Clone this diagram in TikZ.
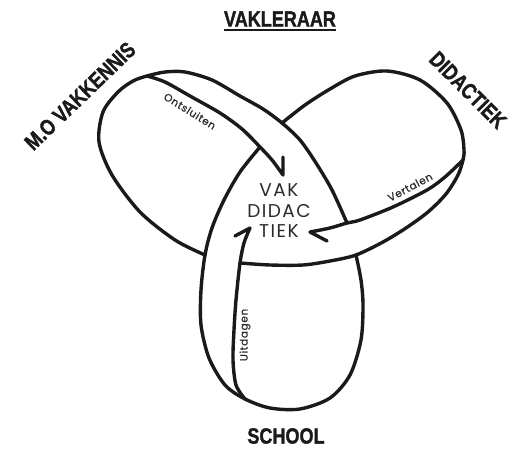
\documentclass[tikz,border=0pt]{standalone}
\usepackage{fontspec}
\usepackage{graphicx}
\setmainfont{Liberation Sans}
\newfontfamily\geo[LetterSpace=8]{Poppins}
\newfontfamily\geob[LetterSpace=6,FakeBold=0.6]{Poppins}
\newfontfamily\lab[BoldFeatures={FakeBold=1.6}]{Liberation Sans}
\newcommand{\cond}[1]{\scalebox{0.82}[1]{#1}}
\definecolor{ink}{HTML}{1A1A1A}
\definecolor{grey}{HTML}{2A2A2A}
\begin{document}
\begin{tikzpicture}[x=1pt,y=-1pt,
  ln/.style={line width=3.4pt, draw=ink, line cap=round, line join=round},
  big/.style={font=\lab\bfseries\fontsize{22}{22}\selectfont, text=ink, inner sep=0pt},
  small/.style={font=\geob\fontsize{10.5}{11}\selectfont, text=grey, inner sep=0pt},
  centre/.style={font=\geo\fontsize{18.5}{20.5}\selectfont, text=grey, inner sep=0pt, align=center}
]
\useasboundingbox (0,0) rectangle (512,449);

% trefoil outline, in three pieces (each ends where it passes under a band)
\draw[ln] plot[smooth] coordinates {(282,123) (305,105) (330,89) (355,76) (387,71) (420,80) (447,103) (461,130) (464,150) (463,160) (458,175) (446,194) (428,212) (406,228) (383,242) (356,255) (330,261) (303,265) (270,265) (240,263)};
\draw[ln] plot[smooth] coordinates {(205,255) (175,240) (140,212) (112,175) (99,142) (103,112) (118,92) (133,81) (147,76) (165,72) (185,72) (212,80) (240,96) (263,109) (282,123) (300,140) (316,163) (332,190) (347,223)};
\draw[ln] plot[smooth] coordinates {(356,255) (361,280) (363,305) (361,340) (350,375) (330,398) (300,409) (270,408) (245,399) (225,385) (209,358) (201,325) (201,290) (205,255) (212,228) (224,200) (240,172) (260,147)};

% arrow shafts with one-sided heads
\draw[ln] plot[smooth] coordinates {(147,76) (165,82) (190,96) (220,113) (242,129) (260,147) (272,160) (283,175)} -- (283,157);
\draw[ln] plot[smooth] coordinates {(463,160) (445,177) (427,190) (393,207) (360,220) (347,223) (330,228) (310,232)} -- (327,241);
\draw[ln] plot[smooth] coordinates {(245,399) (236,385) (233,360) (234,330) (236,300) (240,263) (244,243) (250,228)} -- (235,236);

% labels
\node[big] (vakleraar) at (280,19) {\cond{VAKLERAAR}};
\draw[line width=1.8pt, ink] ([yshift=-3pt]vakleraar.south west) -- ([yshift=-3pt]vakleraar.south east);
\node[big, rotate=44] (mo) at (80,96) {\cond{M.O VAKKENNIS}};
\node[big, rotate=-45] (did) at (468,90) {\cond{DIDACTIEK}};
\node[big] (school) at (286,436) {\cond{SCHOOL}};

\node[centre] (vd) at (279,211) {VAK\\DIDAC\\TIEK};

\node[small, rotate=-32] (ont) at (190,111) {Ontsluiten};
\node[small, rotate=28] (ver) at (410,187) {Vertalen};
\node[small, rotate=90] (uit) at (245,335) {Uitdagen};
\end{tikzpicture}
\end{document}
